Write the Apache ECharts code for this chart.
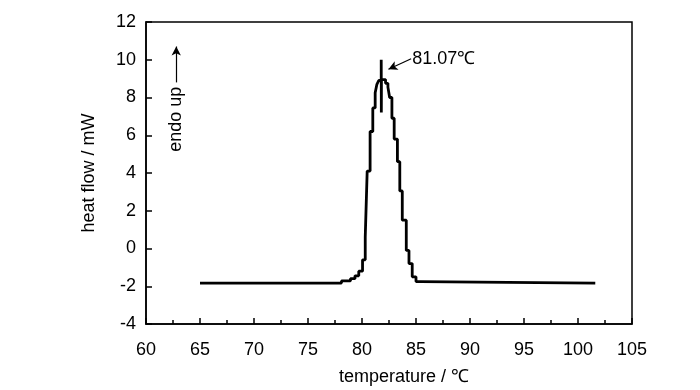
<!DOCTYPE html>
<html>
<head>
<meta charset="utf-8">
<script src="https://cdn.jsdelivr.net/npm/echarts@6/dist/echarts.min.js"></script>
<style>
html,body{margin:0;padding:0;background:#fff;}
#chart{width:700px;height:390px;}
</style>
</head>
<body>
<div id="chart"></div>
<script>
// Step profile of the DSC curve: each level starts at the given temperature
var temperatureC = [65.0, 78.1, 78.93, 79.35, 79.7, 80.05, 80.3, 80.48, 80.75, 81.0, 81.22, 81.38, 81.55,
  81.78, 81.79, 81.8, 82.18, 82.4, 82.56, 82.77, 82.98, 83.28, 83.5, 83.73, 84.1, 84.35, 84.65, 85.0, 85.4, 101.6];
var heatFlowMW = [-1.83, -1.72, -1.6, -1.45, -1.2, -0.6, 0.6, 4.1, 6.2, 7.45, 8.25, 8.7, 8.9,
  10.0, 7.2, 8.95, 8.75, 8.55, 8.0, 6.9, 5.8, 4.6, 3.05, 1.5, -0.1, -0.8, -1.5, -1.75, -1.83, -1.83];

var xMin = 60, xMax = 105, xStep = 5;
var yMin = -4, yMax = 12, yStep = 2;

var peakLabel = '81.07℃';
var peakArrowFrom = [84.55, 10.05];
var peakArrowTo = [82.45, 9.5];
var endoArrowFrom = [62.8, 8.8];
var endoArrowTo = [62.8, 10.7];
var endoTextAt = [62.8, 6.85];
var endoText = 'endo up';

var FONT = '"Liberation Sans Narrow", "Arial Narrow", "Liberation Sans", Arial, sans-serif';
var FS = 18;
var data = temperatureC.map(function (t, i) { return [t, heatFlowMW[i]]; });

var chart = echarts.init(document.getElementById('chart'), null, {renderer: 'canvas'});
chart.setOption({
  animation: false,
  backgroundColor: '#fff',
  grid: {left: 146, right: 68, top: 22, bottom: 66, containLabel: false, outerBoundsMode: 'none',
    show: true, borderColor: '#000', borderWidth: 1.5, backgroundColor: 'transparent'},
  xAxis: {
    type: 'value', min: xMin, max: xMax, interval: xStep,
    name: 'temperature / ℃', nameLocation: 'middle', nameGap: 44,
    nameTextStyle: {color: '#000', fontSize: FS, fontFamily: FONT, padding: [0, 0, 0, 30]},
    axisLine: {show: true, onZero: false, lineStyle: {color: '#000', width: 1.5}},
    axisTick: {show: true, inside: true, length: 6, lineStyle: {color: '#000', width: 1.5}},
    minorTick: {show: true, splitNumber: 2, length: 4, lineStyle: {color: '#000', width: 1.5}},
    axisLabel: {color: '#000', fontSize: FS, fontFamily: FONT, margin: 17},
    splitLine: {show: false}, minorSplitLine: {show: false}
  },
  yAxis: {
    type: 'value', min: yMin, max: yMax, interval: yStep,
    name: 'heat flow / mW', nameLocation: 'middle', nameGap: 48, nameRotate: 90,
    nameTextStyle: {color: '#000', fontSize: FS, fontFamily: FONT},
    axisLine: {show: true, onZero: false, lineStyle: {color: '#000', width: 1.5}},
    axisTick: {show: true, inside: true, length: 6, lineStyle: {color: '#000', width: 1.5}},
    axisLabel: {color: '#000', fontSize: FS, fontFamily: FONT, margin: 10},
    splitLine: {show: false}
  },
  series: [{
    type: 'line', step: 'end', data: data, showSymbol: false, symbol: 'none',
    lineStyle: {color: '#000', width: 2.8}, itemStyle: {color: '#000'},
    emphasis: {disabled: true}, silent: true,
    markLine: {
      silent: true, animation: false,
      symbol: ['none', 'arrow'], symbolSize: [7, 9],
      lineStyle: {color: '#000', width: 1.2, type: 'solid'},
      label: {show: false}, emphasis: {disabled: true},
      data: [
        [{coord: peakArrowFrom}, {coord: peakArrowTo}],
        [{coord: endoArrowFrom}, {coord: endoArrowTo}]
      ]
    },
    markPoint: {
      silent: true, animation: false, symbol: 'circle', symbolSize: 0,
      itemStyle: {color: 'transparent'},
      data: [
        {coord: peakArrowFrom, label: {show: true, formatter: peakLabel, position: 'right', distance: 1,
          color: '#000', fontSize: FS, fontFamily: FONT}},
        {coord: endoTextAt, label: {show: true, formatter: endoText, position: 'inside', rotate: 90,
          color: '#000', fontSize: FS, fontFamily: FONT}}
      ]
    }
  }]
});
</script>
</body>
</html>
